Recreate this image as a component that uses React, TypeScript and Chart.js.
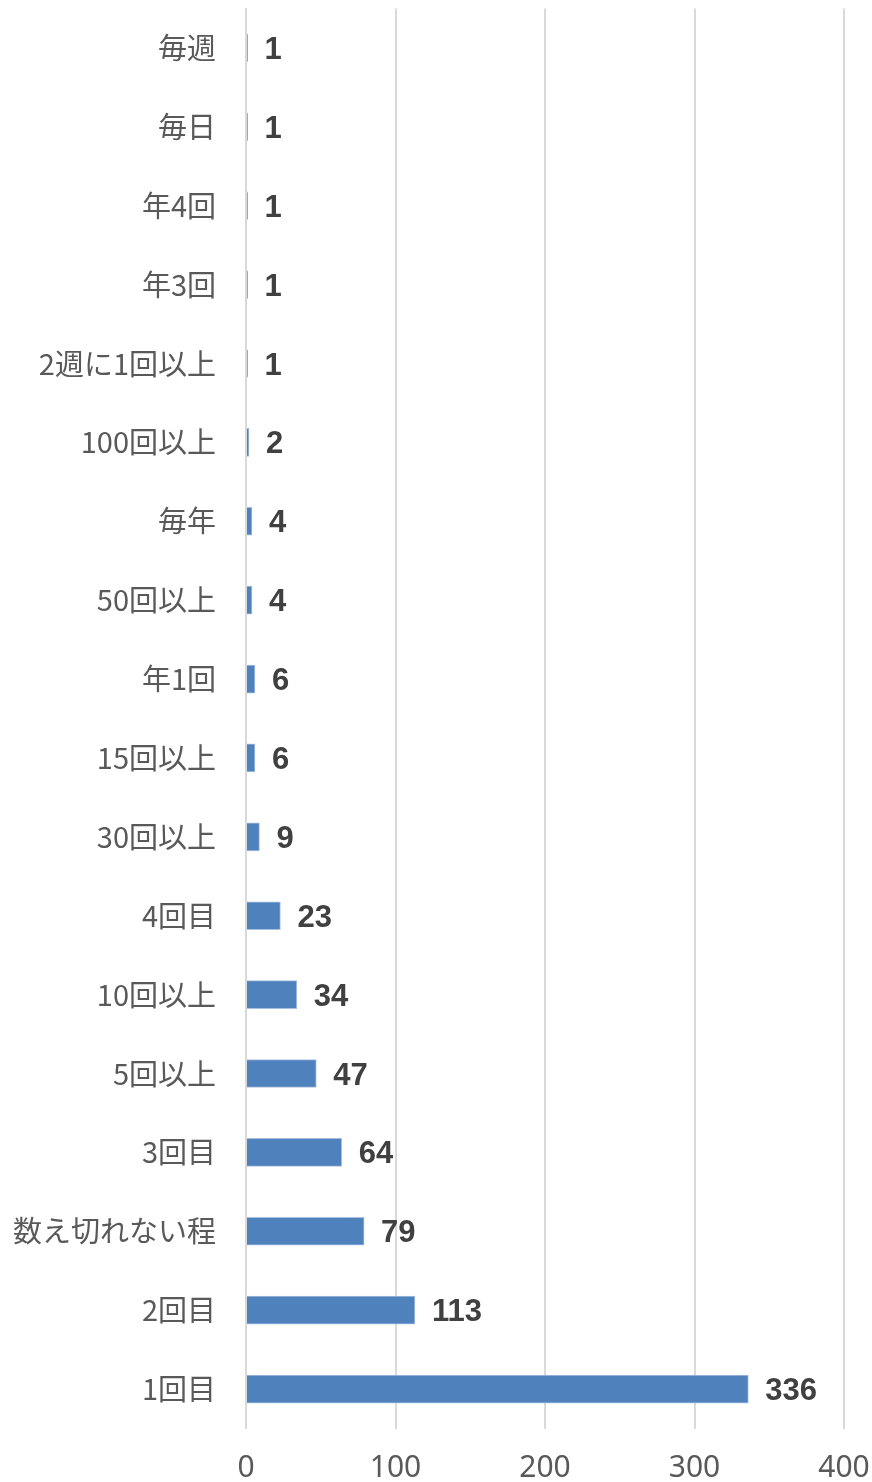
import React, { useEffect, useRef } from "react";
import { Chart, registerables } from "chart.js";

Chart.register(...registerables);

const categories = [
  "毎週", "毎日", "年4回", "年3回", "2週に1回以上", "100回以上", "毎年", "50回以上",
  "年1回", "15回以上", "30回以上", "4回目", "10回以上", "5回以上", "3回目", "数え切れない程",
  "2回目", "1回目",
];
const counts = [1, 1, 1, 1, 1, 2, 4, 4, 6, 6, 9, 23, 34, 47, 64, 79, 113, 336];
const xTicks = [0, 100, 200, 300, 400];

const barColor = "#4f81bd";
const gridColor = "#d9d9d9";

const valueLabels = {
  id: "valueLabels",
  afterDatasetsDraw(chart: any) {
    const ctx = chart.ctx;
    const meta = chart.getDatasetMeta(0);
    ctx.save();
    ctx.font = "bold 31px 'Liberation Sans', Arial, sans-serif";
    ctx.fillStyle = "#404040";
    ctx.textAlign = "left";
    ctx.textBaseline = "middle";
    meta.data.forEach((el: any, i: number) => {
      ctx.fillText(String(counts[i]), el.x + 17, el.y + 2.5);
    });
    ctx.restore();
  },
};

export default function App() {
  const ref = useRef<HTMLCanvasElement>(null);
  useEffect(() => {
    if (!ref.current) return;
    const chart = new Chart(ref.current, {
      type: "bar",
      data: {
        labels: categories,
        datasets: [
          {
            data: counts,
            backgroundColor: barColor,
            borderColor: "#a7bfe0",
            borderWidth: 1,
            barThickness: 28,
          },
        ],
      },
      options: {
        indexAxis: "y",
        animation: false,
        responsive: false,
        maintainAspectRatio: false,
        layout: { padding: { top: 8.5, right: 28, left: 0, bottom: 0 } },
        plugins: { legend: { display: false }, tooltip: { enabled: false } },
        scales: {
          x: {
            min: 0,
            max: 400,
            afterBuildTicks(scale: any) {
              scale.ticks = xTicks.map((v) => ({ value: v }));
            },
            grid: { color: gridColor, lineWidth: 2, drawTicks: false },
            border: { display: false },
            ticks: {
              padding: 22,
              color: "#595959",
              font: { family: "'Noto Sans', sans-serif", size: 30 },
            },
            afterFit(scale: any) {
              scale.height = 53.5;
              scale.paddingLeft = 0;
              scale.paddingRight = 0;
              scale.paddingTop = 0;
              scale.paddingBottom = 0;
            },
          },
          y: {
            grid: { display: false },
            border: { display: true, color: gridColor, width: 2 },
            ticks: {
              padding: 22,
              color: "#595959",
              autoSkip: false,
              font: { family: "'Noto Sans CJK JP', sans-serif", size: 29 },
            },
            afterFit(scale: any) {
              scale.width = 246;
              scale.paddingLeft = 0;
              scale.paddingRight = 0;
              scale.paddingTop = 0;
              scale.paddingBottom = 0;
            },
          },
        },
      },
      plugins: [valueLabels],
    } as any);
    return () => chart.destroy();
  }, []);
  return (
    <div style={{ position: "fixed", left: 0, top: 0, width: 872, height: 1482, background: "#fff" }}>
      <canvas ref={ref} width={872} height={1482} style={{ display: "block", width: 872, height: 1482 }} />
    </div>
  );
}
